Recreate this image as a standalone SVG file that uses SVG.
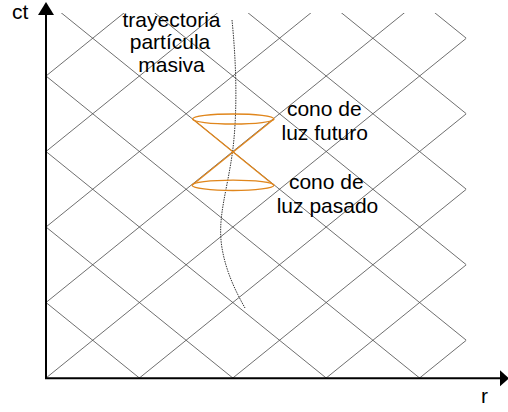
<svg xmlns="http://www.w3.org/2000/svg" width="508" height="412" viewBox="0 0 508 412">
<style>
.grid line{stroke:#4a4a4a;stroke-width:0.8;fill:none}
.axis{stroke:#000;stroke-width:2;fill:none}
.cone{stroke:#E0861C;stroke-width:1.3;fill:none}
.traj{stroke:#333;stroke-width:1;stroke-dasharray:1.5 1;fill:none}
text{font-family:"Liberation Sans",Arial,sans-serif;font-size:21px;fill:#000}
</style>
<defs>
<clipPath id="gc"><rect x="46" y="13" width="420.3" height="365"/></clipPath>
</defs>
<rect width="508" height="412" fill="#fff"/>
<g id="grid" class="grid" clip-path="url(#gc)">
<line x1="46" y1="302.5" x2="466.3" y2="642.25"/>
<line x1="46" y1="227" x2="466.3" y2="566.75"/>
<line x1="46" y1="151.5" x2="466.3" y2="491.25"/>
<line x1="46" y1="76" x2="466.3" y2="415.75"/>
<line x1="46" y1="0.5" x2="466.3" y2="340.25"/>
<line x1="46" y1="-75" x2="466.3" y2="264.75"/>
<line x1="46" y1="-150.5" x2="466.3" y2="189.25"/>
<line x1="46" y1="-226" x2="466.3" y2="113.75"/>
<line x1="46" y1="-301.5" x2="466.3" y2="38.25"/>
<line x1="46" y1="76" x2="466.3" y2="-263.75"/>
<line x1="46" y1="151.5" x2="466.3" y2="-188.25"/>
<line x1="46" y1="227" x2="466.3" y2="-112.75"/>
<line x1="46" y1="302.5" x2="466.3" y2="-37.25"/>
<line x1="46" y1="378" x2="466.3" y2="38.25"/>
<line x1="46" y1="453.5" x2="466.3" y2="113.75"/>
<line x1="46" y1="529" x2="466.3" y2="189.25"/>
<line x1="46" y1="604.5" x2="466.3" y2="264.75"/>
<line x1="46" y1="680" x2="466.3" y2="340.25"/>
</g>
<g id="axes">
<line class="axis" x1="46" y1="379" x2="46" y2="15"/>
<polygon points="46,2 38,15 54,15" fill="#000"/>
<line class="axis" x1="45" y1="378.3" x2="500" y2="378.3"/>
<polygon points="509,378.3 500,370.3 500,386.3" fill="#000"/>
<text x="12" y="18.5">ct</text>
<text x="481" y="403">r</text>
</g>
<g id="trajectory">
<path class="traj" d="M232,20 C236,60 238,110 232.5,152 C227,192 217,218 222,248 C226,272 236,292 245,308"/>
<text text-anchor="middle" x="171.5" y="26.5">trayectoria</text>
<text text-anchor="middle" x="170" y="49">partícula</text>
<text text-anchor="middle" x="171.5" y="71.5">masiva</text>
</g>
<g id="lightcone">
<ellipse class="cone" cx="233.3" cy="119" rx="40.7" ry="5"/>
<ellipse class="cone" cx="233" cy="185.3" rx="41" ry="5.2"/>
<line class="cone" x1="192.6" y1="119" x2="274" y2="185.3"/>
<line class="cone" x1="274" y1="119" x2="192" y2="185.3"/>
</g>
<g id="labels">
<text text-anchor="middle" x="324.3" y="116">cono de</text>
<text text-anchor="middle" x="324.7" y="140">luz futuro</text>
<text text-anchor="middle" x="326.3" y="189">cono de</text>
<text text-anchor="middle" x="327.5" y="213">luz pasado</text>
</g>
</svg>
